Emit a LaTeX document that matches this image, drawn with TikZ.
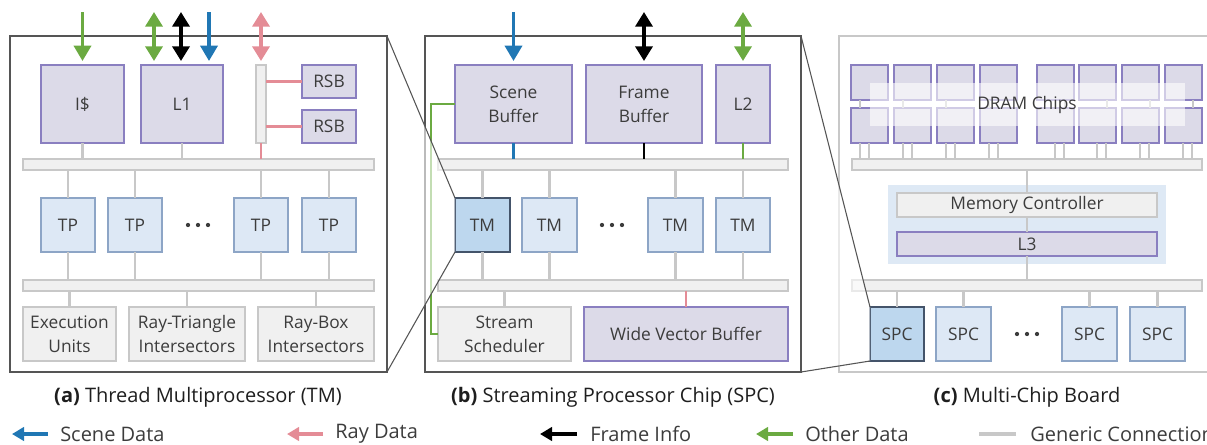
\documentclass[tikz,border=0pt]{standalone}
\usepackage{fontspec}
\setmainfont{Open Sans}
\usetikzlibrary{arrows.meta,calc}
\definecolor{txt}{HTML}{3C3C3C}
\definecolor{captxt}{HTML}{1E1E1E}
\definecolor{lavfill}{HTML}{DCDAE8}
\definecolor{lavdraw}{HTML}{8A7FC0}
\definecolor{tpfill}{HTML}{DDE8F5}
\definecolor{tpdraw}{HTML}{8DA5C6}
\definecolor{hlfill}{HTML}{BDD7EE}
\definecolor{hldraw}{HTML}{44546A}
\definecolor{grayfill}{HTML}{F0F0F0}
\definecolor{graydraw}{HTML}{C8C8C8}
\definecolor{sceneblue}{HTML}{2077B4}
\definecolor{raypink}{HTML}{E48C96}
\definecolor{othergreen}{HTML}{6BAA41}
\definecolor{framegray}{HTML}{555555}
\definecolor{mcblue}{HTML}{DEE9F5}
\newcommand\mkbox[7]{\node[#6, minimum width={(#4-#2)*0.75pt}, minimum height={(#5-#3)*0.75pt}] (#1) at ({(#2+#4)/2},{(#3+#5)/2}) {#7};}
\tikzset{
  boxbase/.style={inner sep=0pt, outer sep=0pt, text=txt, font=\fontsize{13}{18}\selectfont, align=center, line width=1pt},
  lav/.style={boxbase, fill=lavfill, draw=lavdraw},
  tp/.style={boxbase, fill=tpfill, draw=tpdraw},
  hl/.style={boxbase, fill=hlfill, draw=hldraw},
  gbox/.style={boxbase, fill=grayfill, draw=graydraw},
  mcbg/.style={boxbase, fill=mcblue},
  panelframe/.style={inner sep=0pt, outer sep=0pt, draw=framegray, line width=1pt},
  cframe/.style={inner sep=0pt, outer sep=0pt, draw=graydraw, line width=1pt},
  gen/.style={draw=graydraw, line width=1.7pt},
  sig/.style={line width=2.2pt},
  bigarrow/.style={line width=2.6pt, -{Triangle[width=12.75pt,length=11.5pt]}, shorten >=3pt},
  dblarrow/.style={line width=2.6pt, {Triangle[width=12.75pt,length=11pt]}-{Triangle[width=12.75pt,length=11pt]}, shorten >=3pt},
  legarrow/.style={line width=3.2pt, -{Triangle[width=10pt,length=9pt]}},
  zoomline/.style={draw=framegray, line width=0.8pt},
  veil/.style={fill=white, fill opacity=0.6},
  captionsty/.style={inner sep=0pt, text=captxt, font=\fontsize{15}{18}\selectfont},
  legtext/.style={inner sep=0pt, anchor=west, text=txt, font=\fontsize{15}{18}\selectfont},
  dotsty/.style={fill=txt}
}
\begin{document}
\begin{tikzpicture}[x=0.75pt,y=-0.75pt]
\useasboundingbox (0,0) rectangle (1207,444);
\clip (0,0) rectangle (1207,444);
% ================= panel (a)
\mkbox{fa}{10}{36}{387}{372}{panelframe}{}
\mkbox{icache}{41}{65}{124}{143}{lav}{I\$}
\mkbox{lone}{141}{65}{223}{143}{lav}{L1}
\mkbox{vbar}{256}{65}{266}{143}{gbox}{}
\mkbox{rsba}{302}{65}{356}{98}{lav}{RSB}
\mkbox{rsbb}{302}{110}{356}{143}{lav}{RSB}
\mkbox{abara}{23}{159}{374}{170}{gbox}{}
\mkbox{tpa}{41}{198}{95}{252}{tp}{TP}
\mkbox{tpb}{108}{198}{162}{252}{tp}{TP}
\mkbox{tpc}{234}{198}{288}{252}{tp}{TP}
\mkbox{tpd}{302}{198}{356}{252}{tp}{TP}
\foreach \d in {188,198,208} \fill[dotsty] (\d,225) circle (1.6pt);
\mkbox{abarb}{23}{280}{374}{291}{gbox}{}
\mkbox{exu}{23}{307}{116}{361}{gbox}{Execution\\Units}
\mkbox{rtri}{129}{307}{245}{361}{gbox}{Ray-Triangle\\Intersectors}
\mkbox{rbox}{258}{307}{374}{361}{gbox}{Ray-Box\\Intersectors}
\draw[gen] (icache.south) -- (icache.south |- abara.north);
\draw[gen] (lone.south) -- (lone.south |- abara.north);
\draw[sig, raypink] (vbar.south) -- (vbar.south |- abara.north);
\draw[sig, raypink] (vbar.east |- rsba.west) -- (rsba.west);
\draw[sig, raypink] (vbar.east |- rsbb.west) -- (rsbb.west);
\foreach \t in {tpa,tpb,tpc,tpd} {
  \draw[gen] (abara.south -| \t.north) -- (\t.north);
  \draw[gen] (\t.south) -- (\t.south |- abarb.north);
}
\foreach \t in {exu,rtri,rbox} \draw[gen] (abarb.south -| \t.north) -- (\t.north);
\coordinate (ta1) at (82.5,12);
\coordinate (ta2) at (154,12);
\coordinate (ta3) at (181,12);
\coordinate (ta4) at (209,12);
\coordinate (ta5) at (261,12);
\draw[bigarrow, othergreen] (ta1) -- (icache.north);
\draw[dblarrow, othergreen] (ta2) -- (ta2 |- lone.north);
\draw[dblarrow, black] (ta3) -- (ta3 |- lone.north);
\draw[bigarrow, sceneblue] (ta4) -- (ta4 |- lone.north);
\draw[dblarrow, raypink] (ta5) -- (vbar.north);
% ================= panel (b)
\mkbox{fb}{425}{36}{801}{372}{panelframe}{}
\mkbox{scb}{455}{65}{572}{143}{lav}{Scene\\Buffer}
\mkbox{frb}{586}{65}{702}{143}{lav}{Frame\\Buffer}
\mkbox{ltwo}{716}{65}{770}{143}{lav}{L2}
\mkbox{bbara}{438}{159}{788}{170}{gbox}{}
\mkbox{tma}{455}{198}{510}{252}{hl}{TM}
\mkbox{tmb}{522}{198}{577}{252}{tp}{TM}
\mkbox{tmc}{648}{198}{703}{252}{tp}{TM}
\mkbox{tmd}{716}{198}{770}{252}{tp}{TM}
\foreach \d in {602,612,622} \fill[dotsty] (\d,225) circle (1.6pt);
\mkbox{bbarb}{438}{280}{788}{291}{gbox}{}
\mkbox{sched}{438}{307}{571}{361}{gbox}{Stream\\Scheduler}
\mkbox{wvb}{584}{307}{788}{361}{lav}{Wide Vector Buffer}
\draw[sig, sceneblue] (scb.south) -- (scb.south |- bbara.north);
\draw[sig, black] (frb.south) -- (frb.south |- bbara.north);
\draw[sig, othergreen] (ltwo.south) -- (ltwo.south |- bbara.north);
\foreach \t in {tma,tmb,tmc,tmd} {
  \draw[gen] (bbara.south -| \t.north) -- (\t.north);
  \draw[gen] (\t.south) -- (\t.south |- bbarb.north);
}
\draw[gen] (bbarb.south -| sched.north) -- (sched.north);
\draw[sig, raypink] (bbarb.south -| wvb.north) -- (wvb.north);
\draw[othergreen, line width=2pt] (scb.west) -- ++(-24,0) |- (sched.west);
\coordinate (tb1) at (513.5,12);
\coordinate (tb2) at (644,12);
\coordinate (tb3) at (743,12);
\draw[bigarrow, sceneblue] (tb1) -- (scb.north);
\draw[dblarrow, black] (tb2) -- (frb.north);
\draw[dblarrow, othergreen] (tb3) -- (ltwo.north);
% ================= panel (c)
\mkbox{fc}{839}{36}{1215}{372}{cframe}{}
\mkbox{cbara}{852}{159}{1202}{170}{gbox}{}
\foreach \x [count=\i] in {851,894,937,980,1037,1079,1122,1165} {
  \mkbox{dt\i}{\x}{65}{\x+37}{100}{lav}{}
  \mkbox{db\i}{\x}{108}{\x+37}{143}{lav}{}
  \ifnum\i<5
    \path ($(dt\i.south west)+(9,0)$) coordinate (pm);
    \path ($(db\i.south west)+(9,0)$) coordinate (pa);
    \path ($(db\i.south west)+(18,0)$) coordinate (pb);
  \else
    \path ($(dt\i.south west)+(28,0)$) coordinate (pm);
    \path ($(db\i.south west)+(18,0)$) coordinate (pa);
    \path ($(db\i.south west)+(27,0)$) coordinate (pb);
  \fi
  \draw[gen] (pm) -- (pm |- db\i.north);
  \draw[gen] (pa) -- (pa |- cbara.north);
  \draw[gen] (pb) -- (pb |- cbara.north);
}
\fill[white, opacity=0.6] (870,83) rectangle (1185,126);
\node[boxbase] (dramlbl) at (1027,104.5) {DRAM Chips};
\mkbox{mcarea}{888}{185}{1166}{264}{mcbg}{}
\mkbox{memc}{897}{193}{1157}{217}{gbox}{Memory Controller}
\mkbox{lthree}{897}{232}{1157}{256}{lav}{L3}
\mkbox{cbarb}{852}{280}{1202}{291}{gbox}{}
\mkbox{spca}{870}{307}{924}{361}{hl}{SPC}
\mkbox{spcb}{936}{307}{991}{361}{tp}{SPC}
\mkbox{spcc}{1062}{307}{1117}{361}{tp}{SPC}
\mkbox{spcd}{1130}{307}{1185}{361}{tp}{SPC}
\foreach \d in {1017,1027,1037} \fill[dotsty] (\d,334) circle (1.6pt);
\draw[gen] (cbara.south -| memc.north) -- (memc.north);
\draw[gen] (memc.south) -- (lthree.north);
\draw[gen] (lthree.south) -- (lthree.south |- cbarb.north);
\foreach \t in {spca,spcb,spcc,spcd} \draw[gen] (cbarb.south -| \t.north) -- (\t.north);
% ================= zoom veils and lines
\fill[veil] (fa.north east) -- (tma.north west) -- (tma.south west) -- (fa.south east) -- cycle;
\fill[veil] (fb.north east) -- (spca.north west) -- (spca.south west) -- (fb.south east) -- cycle;
\draw[panelframe] (fa.north east) -- (fa.south east);
\draw[panelframe] (fb.north east) -- (fb.south east);
\draw[zoomline] (fa.north east) -- (tma.north west);
\draw[zoomline] (fa.south east) -- (tma.south west);
\draw[zoomline] (fb.north east) -- (spca.north west);
\draw[zoomline] (fb.south east) -- (spca.south west);
% ================= captions
\node[captionsty] (capa) at (198,397) {\textbf{(a)} Thread Multiprocessor (TM)};
\node[captionsty] (capb) at (613,397) {\textbf{(b)} Streaming Processor Chip (SPC)};
\node[captionsty] (capc) at (1027,397) {\textbf{(c)} Multi-Chip Board};
% ================= legend
\coordinate (ls1) at (48,434);  \coordinate (le1) at (12,434);
\coordinate (ls2) at (323,434); \coordinate (le2) at (287,434);
\coordinate (ls3) at (577,434); \coordinate (le3) at (540,434);
\coordinate (ls4) at (793,434); \coordinate (le4) at (756,434);
\coordinate (ls5) at (1016,434); \coordinate (le5) at (979,434);
\draw[legarrow, sceneblue] (ls1) -- (le1);
\draw[legarrow, raypink] (ls2) -- (le2);
\draw[legarrow, black] (ls3) -- (le3);
\draw[legarrow, othergreen] (ls4) -- (le4);
\draw[graydraw, line width=3.2pt] (ls5) -- (le5);
\node[legtext] (lt1) at (60,434) {Scene Data};
\node[legtext] (lt2) at (335,434) {Ray Data};
\node[legtext] (lt3) at (590,434) {Frame Info};
\node[legtext] (lt4) at (805,434) {Other Data};
\node[legtext] (lt5) at (1030,434) {Generic Connection};
\end{tikzpicture}
\end{document}
